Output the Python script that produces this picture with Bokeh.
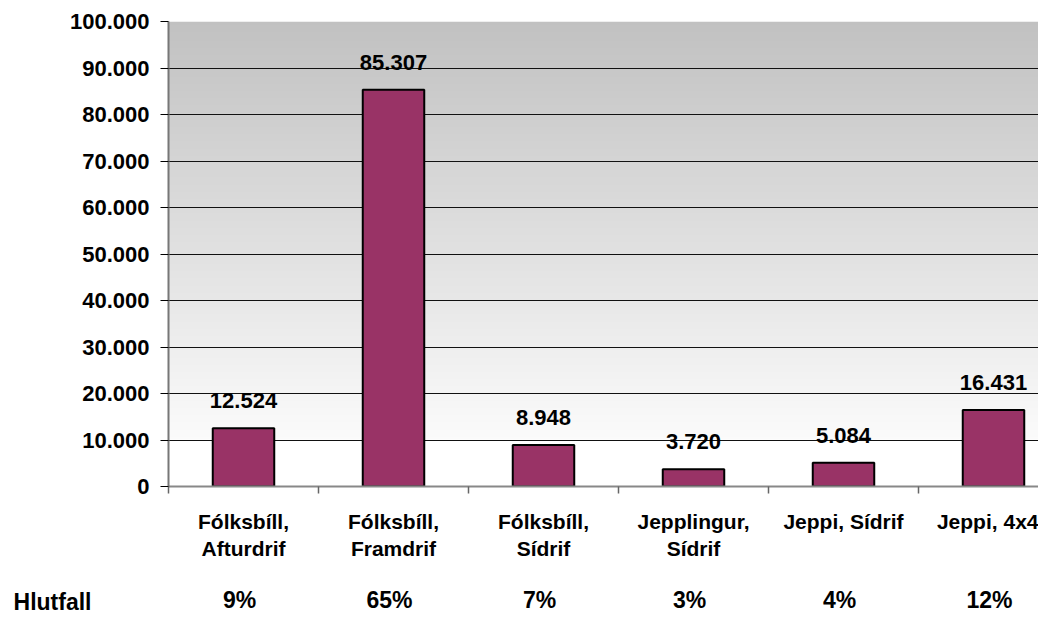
import numpy as np
from bokeh.plotting import figure
from bokeh.layouts import column
from bokeh.models import ColumnDataSource, Range1d, FixedTicker, LabelSet
from bokeh.core.properties import value
from bokeh.embed import file_html
from bokeh.resources import INLINE

# ---- data ----
categories = ["Fólksbíll,\nAfturdrif", "Fólksbíll,\nFramdrif", "Fólksbíll,\nSídrif",
              "Jepplingur,\nSídrif", "Jeppi, Sídrif", "Jeppi, 4x4"]
counts = [12524, 85307, 8948, 3720, 5084, 16431]
count_labels = ["12.524", "85.307", "8.948", "3.720", "5.084", "16.431"]
shares = ["9%", "65%", "7%", "3%", "4%", "12%"]
row_title = "Hlutfall"
y_ticks = [0, 10000, 20000, 30000, 40000, 50000, 60000, 70000, 80000, 90000, 100000]

FONT = "Liberation Sans"
n = len(categories)
centers = [i + 0.5 for i in range(n)]
boundaries = [float(i) for i in range(n + 1)]

W = 1038
LEFT = 168
PX_PER_CAT = 150
x_end = (W - LEFT) / PX_PER_CAT
H1, H2 = 564, 50
ROW_Y = 15

p = figure(width=W, height=H1, output_backend="svg", toolbar_location=None,
           x_range=Range1d(0, x_end), y_range=Range1d(0, 100000),
           min_border_left=LEFT, min_border_right=0, min_border_top=21,
           min_border_bottom=H1 - 21 - 465)
p.outline_line_color = None
p.background_fill_color = "white"
p.border_fill_color = "white"

# gradient background of the plot area (styling)
N = 400
img = np.empty((N, 1), dtype=np.uint32)
view = img.view(dtype=np.uint8).reshape((N, 1, 4))
for i in range(N):
    yv = (i + 0.5) / N * 100000
    if yv < 10000:
        c = 255
    else:
        t = (yv - 10000) / 90000
        c = int(round(251 - t * (251 - 193)))
    view[i, 0, :] = [c, c, c, 255]
r_img = p.image_rgba(image=[img], x=0, y=0, dw=x_end, dh=100000)
r_img.level = "image"

# bars
src = ColumnDataSource(dict(x=centers, top=counts, lab=count_labels))
p.vbar(x="x", top="top", width=0.41, source=src, fill_color="#993366",
       line_color="black", line_width=2)

# value labels
p.add_layout(LabelSet(x="x", y="top", text="lab", source=src, y_offset=20,
                      text_align="center", text_baseline="alphabetic",
                      text_font=value(FONT), text_font_style="bold",
                      text_font_size="22px", text_color="black"))

# y axis
yt = FixedTicker(ticks=y_ticks)
p.yaxis.ticker = yt
p.yaxis.major_label_overrides = {v: f"{v:,}".replace(",", ".") for v in y_ticks}
p.yaxis.major_label_text_font = FONT
p.yaxis.major_label_text_font_style = "bold"
p.yaxis.major_label_text_font_size = "22px"
p.yaxis.major_label_text_color = "black"
p.yaxis.major_tick_out = 8
p.yaxis.major_tick_in = 0
p.yaxis.major_tick_line_color = "black"
p.yaxis.minor_tick_line_color = None
p.yaxis.axis_line_color = "#777777"
p.yaxis.axis_line_width = 2
p.yaxis.major_label_standoff = 11

# x axis
p.xaxis.ticker = FixedTicker(ticks=centers, minor_ticks=boundaries)
p.xaxis.major_label_overrides = {c: lab for c, lab in zip(centers, categories)}
p.xaxis.major_tick_line_color = None
p.xaxis.major_tick_out = 7
p.xaxis.major_tick_in = 0
p.xaxis.minor_tick_out = 7
p.xaxis.minor_tick_in = 0
p.xaxis.minor_tick_line_color = "#666666"
p.xaxis.minor_tick_line_width = 1.5
p.xaxis.axis_line_color = "#888888"
p.xaxis.axis_line_width = 2
p.xaxis.major_label_text_font = FONT
p.xaxis.major_label_text_font_style = "bold"
p.xaxis.major_label_text_font_size = "21px"
p.xaxis.major_label_text_color = "black"
p.xaxis.major_label_text_line_height = 1.2
p.xaxis.major_label_standoff = 16

# grid
p.xgrid.grid_line_color = None
p.ygrid.ticker = yt
p.ygrid.grid_line_color = "#111111"
p.ygrid.grid_line_width = 1

# ---- share row (same horizontal scale as the chart) ----
p2 = figure(width=W, height=H2, output_backend="svg", toolbar_location=None,
            x_range=Range1d(0, x_end), y_range=Range1d(0, H2),
            x_axis_type=None,
            min_border_left=LEFT, min_border_right=0, min_border_top=0, min_border_bottom=0)
p2.outline_line_color = None
p2.grid.grid_line_color = None
p2.background_fill_color = "white"
p2.border_fill_color = "white"
src2 = ColumnDataSource(dict(x=centers, share=shares))
p2.text(x="x", y=ROW_Y, text="share", source=src2, x_offset=-4,
        text_align="center", text_baseline="middle",
        text_font=value(FONT), text_font_style="bold",
        text_font_size="23px", text_color="black")
# row title as the row's own axis label
p2.yaxis.ticker = FixedTicker(ticks=[ROW_Y - 2])
p2.yaxis.major_label_overrides = {ROW_Y - 2: row_title}
p2.yaxis.major_tick_out = 0
p2.yaxis.major_tick_in = 0
p2.yaxis.major_tick_line_color = None
p2.yaxis.minor_tick_line_color = None
p2.yaxis.axis_line_color = None
p2.yaxis.major_label_standoff = 77
p2.yaxis.major_label_text_font = FONT
p2.yaxis.major_label_text_font_style = "bold"
p2.yaxis.major_label_text_font_size = "23px"
p2.yaxis.major_label_text_color = "black"

layout = column(p, p2, spacing=0)
open("out.html", "w").write(file_html(layout, INLINE))
